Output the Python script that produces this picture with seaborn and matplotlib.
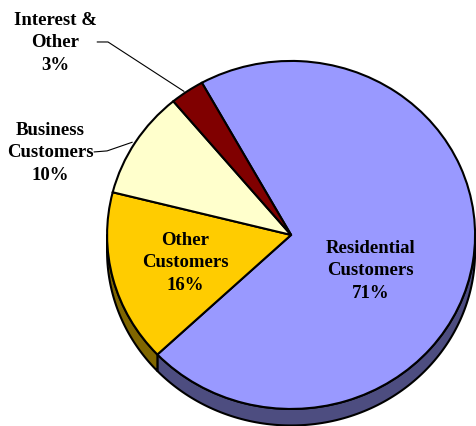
import numpy as np
import matplotlib
matplotlib.use("Agg")
import matplotlib.pyplot as plt
import seaborn as sns
from matplotlib.patches import Polygon

# Revenue mix by source (percent of total)
categories = ["Residential\nCustomers", "Other\nCustomers", "Business\nCustomers", "Interest &\nOther"]
shares = [71, 16, 10, 3]
top_colors = ["#9999FF", "#FFCC00", "#FFFFCC", "#800000"]
side_colors = ["#4D4D80", "#806600", "#808066", "#400000"]

sns.set_style("white")
plt.rcParams["font.family"] = ["Liberation Serif", "DejaVu Serif"]

fig = plt.figure(figsize=(4.76, 4.27), dpi=100)
ax = fig.add_axes([0, 0, 1, 1])

START = 119.0     # angle where the first slice begins (degrees)
DEPTH = 0.095     # thickness of the pie rim in y units

fracs = np.array(shares, dtype=float) / sum(shares)
bounds = START - 360.0 * np.concatenate([[0.0], np.cumsum(fracs)])

# Rim: the front-facing part (sin < 0) of each slice, drawn first
for i in range(len(shares)):
    hi, lo = bounds[i], bounds[i + 1]
    for k in (-1, 0, 1):
        a = max(lo, -180.0 + 360.0 * k)
        b = min(hi, 0.0 + 360.0 * k)
        if b <= a:
            continue
        t = np.radians(np.linspace(a, b, 120))
        top = np.column_stack([np.cos(t), np.sin(t)])
        bot = np.column_stack([np.cos(t[::-1]), np.sin(t[::-1]) - DEPTH])
        ax.add_patch(Polygon(np.vstack([top, bot]), closed=True,
                             facecolor=side_colors[i], edgecolor="black",
                             linewidth=1.5, joinstyle="round"))

# Top face
ax.pie(shares, colors=top_colors, startangle=START, counterclock=False,
       radius=1.0, center=(0, 0),
       wedgeprops=dict(edgecolor="black", linewidth=1.5))

ax.set_aspect("auto")
ax.set_xlim(-1.582, 1.005)
ax.set_ylim(-1.098, 1.356)
ax.axis("off")

label_kw = dict(ha="center", va="center", multialignment="center",
                fontsize=13.5, fontweight="bold", linespacing=1.42,
                color="black")

def lbl(i):
    return f"{categories[i]}\n{shares[i]}%"

# Inside labels
ax.text(0.43, -0.20, lbl(0), **label_kw)
ax.text(-0.576, -0.155, lbl(1), **label_kw)

# Outside labels with leader lines
mid = np.radians((bounds[:-1] + bounds[1:]) / 2.0)

ax.text(-1.31, 0.477, lbl(2), **label_kw)
ax.plot([-1.071, -1.0, np.cos(mid[2]) * 1.02], [0.477, 0.483, np.sin(mid[2]) * 1.0],
        color="black", linewidth=0.8)

ax.text(-1.283, 1.109, lbl(3), **label_kw)
ax.plot([-1.054, -0.995, np.cos(mid[3]) * 1.03], [1.109, 1.109, np.sin(mid[3]) * 1.0],
        color="black", linewidth=0.8)

fig.savefig("out.png", dpi=100)
